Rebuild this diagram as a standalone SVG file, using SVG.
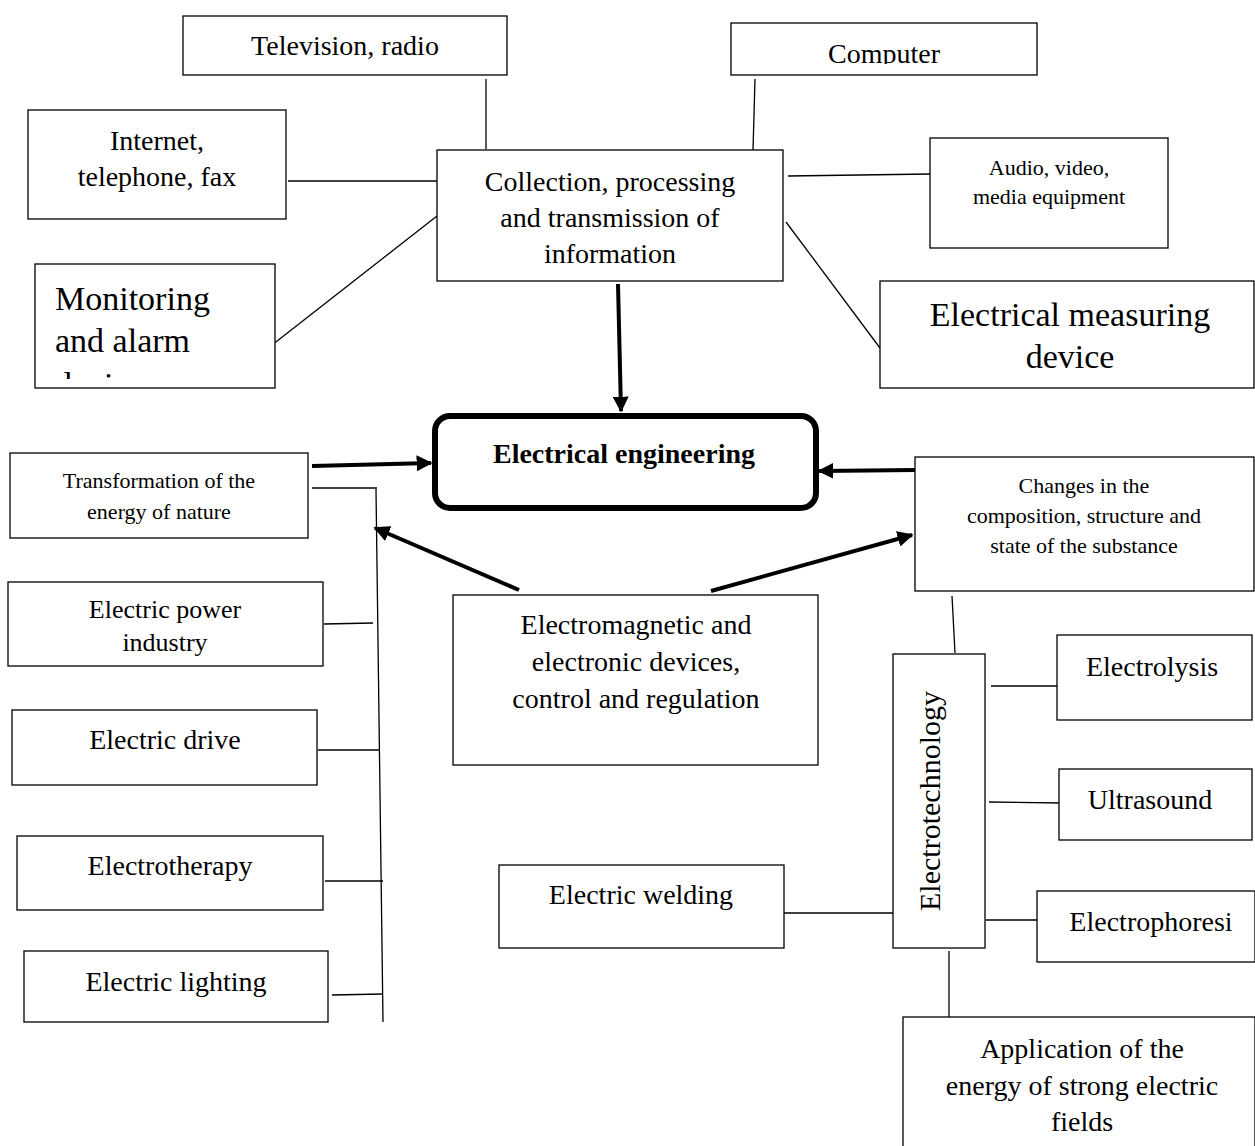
<svg xmlns="http://www.w3.org/2000/svg" width="1255" height="1146" viewBox="0 0 1255 1146">
<style>
.b{fill:#fff;stroke:#000;stroke-width:1.3}
.t{font-family:"Liberation Serif","Times New Roman",serif;fill:#000;text-anchor:middle}
.l{font-family:"Liberation Serif","Times New Roman",serif;fill:#000;text-anchor:start}
.c{stroke:#000;stroke-width:1.3;fill:none}
.a{stroke:#000;stroke-width:4;fill:none;marker-end:url(#ah)}
</style>
<defs>
<marker id="ah" viewBox="0 0 10 10" refX="9" refY="5" markerWidth="4" markerHeight="4" orient="auto" markerUnits="strokeWidth">
<path d="M0,0L10,5L0,10z" fill="#000"/>
</marker>
<clipPath id="cpMon"><rect x="35" y="264" width="240" height="115"/></clipPath>
<clipPath id="cpComp"><rect x="731" y="23" width="306" height="41"/></clipPath>
</defs>
<rect width="1255" height="1146" fill="#fff"/>
<g id="connectors">
<line class="c" x1="486" y1="79" x2="486" y2="149"/>
<line class="c" x1="755" y1="79" x2="753" y2="150"/>
<line class="c" x1="288" y1="181" x2="437" y2="181"/>
<line class="c" x1="272" y1="345" x2="437" y2="216"/>
<line class="c" x1="788" y1="176" x2="930" y2="174"/>
<line class="c" x1="786" y1="222" x2="880" y2="348"/>
<line class="a" x1="618" y1="284" x2="621" y2="411"/>
<line class="a" x1="312" y1="466" x2="431" y2="463"/>
<line class="a" x1="916" y1="470" x2="819" y2="471"/>
<line class="a" x1="711" y1="591" x2="912" y2="535"/>
<line class="a" x1="519" y1="590" x2="375" y2="528"/>
<line class="c" x1="312" y1="488" x2="377" y2="488"/>
<line class="c" x1="376" y1="489" x2="383" y2="1022"/>
<line class="c" x1="324" y1="624" x2="373" y2="623"/>
<line class="c" x1="318" y1="750" x2="379" y2="750"/>
<line class="c" x1="325" y1="881" x2="383" y2="881"/>
<line class="c" x1="332" y1="995" x2="383" y2="994"/>
<line class="c" x1="952" y1="596" x2="955" y2="653"/>
<line class="c" x1="991" y1="686" x2="1057" y2="686"/>
<line class="c" x1="989" y1="802" x2="1062" y2="803"/>
<line class="c" x1="986" y1="920" x2="1037" y2="920"/>
<line class="c" x1="784" y1="913" x2="893" y2="913"/>
<line class="c" x1="949" y1="951" x2="949" y2="1017"/>
</g>
<g id="tv"><rect class="b" x="183" y="16" width="324" height="59"/><text class="t" x="345" y="55" font-size="28">Television, radio</text></g>
<g id="computer"><rect class="b" x="731" y="23" width="306" height="52"/><text class="t" x="884" y="63" font-size="28" clip-path="url(#cpComp)">Computer</text></g>
<g id="internet"><rect class="b" x="28" y="110" width="258" height="109"/><text class="t" x="157" y="150" font-size="28">Internet,</text><text class="t" x="157" y="186" font-size="28">telephone, fax</text></g>
<g id="collection"><rect class="b" x="437" y="150" width="346" height="131"/><text class="t" x="610" y="191" font-size="28">Collection, processing</text><text class="t" x="610" y="227" font-size="28">and transmission of</text><text class="t" x="610" y="263" font-size="28">information</text></g>
<g id="audio"><rect class="b" x="930" y="138" width="238" height="110"/><text class="t" x="1049" y="175" font-size="22">Audio, video,</text><text class="t" x="1049" y="204" font-size="22">media equipment</text></g>
<g id="monitoring"><rect class="b" x="35" y="264" width="240" height="124"/><text class="l" x="55" y="310" font-size="34">Monitoring</text><text class="l" x="55" y="352" font-size="34">and alarm</text><text class="l" x="55" y="396" font-size="34" clip-path="url(#cpMon)">devices</text></g>
<g id="measuring"><rect class="b" x="880" y="281" width="374" height="107"/><text class="t" x="1070" y="326" font-size="34">Electrical measuring</text><text class="t" x="1070" y="368" font-size="34">device</text></g>
<g id="ee"><rect x="435" y="416" width="381" height="92" rx="15" fill="#fff" stroke="#000" stroke-width="6"/><text class="t" x="624" y="463" font-size="28" font-weight="bold">Electrical engineering</text></g>
<g id="transformation"><rect class="b" x="10" y="453" width="298" height="85"/><text class="t" x="159" y="488" font-size="22">Transformation of the</text><text class="t" x="159" y="519" font-size="22">energy of nature</text></g>
<g id="power"><rect class="b" x="8" y="582" width="315" height="84"/><text class="t" x="165" y="618" font-size="26">Electric power</text><text class="t" x="165" y="651" font-size="26">industry</text></g>
<g id="drive"><rect class="b" x="12" y="710" width="305" height="75"/><text class="t" x="165" y="749" font-size="28">Electric drive</text></g>
<g id="therapy"><rect class="b" x="17" y="836" width="306" height="74"/><text class="t" x="170" y="875" font-size="28">Electrotherapy</text></g>
<g id="lighting"><rect class="b" x="24" y="951" width="304" height="71"/><text class="t" x="176" y="991" font-size="28">Electric lighting</text></g>
<g id="electromagnetic"><rect class="b" x="453" y="595" width="365" height="170"/><text class="t" x="636" y="634" font-size="28">Electromagnetic and</text><text class="t" x="636" y="671" font-size="28">electronic devices,</text><text class="t" x="636" y="708" font-size="28">control and regulation</text></g>
<g id="changes"><rect class="b" x="915" y="457" width="339" height="134"/><text class="t" x="1084" y="493" font-size="22">Changes in the</text><text class="t" x="1084" y="523" font-size="22">composition, structure and</text><text class="t" x="1084" y="553" font-size="22">state of the substance</text></g>
<g id="electrotechnology"><rect class="b" x="893" y="654" width="92" height="294"/><text class="t" x="0" y="0" font-size="30" transform="translate(940,801) rotate(-90)">Electrotechnology</text></g>
<g id="electrolysis"><rect class="b" x="1057" y="635" width="195" height="85"/><text class="t" x="1152" y="676" font-size="28">Electrolysis</text></g>
<g id="ultrasound"><rect class="b" x="1059" y="769" width="193" height="71"/><text class="t" x="1150" y="809" font-size="28">Ultrasound</text></g>
<g id="electrophoresis"><rect class="b" x="1037" y="891" width="218" height="71"/><text class="t" x="1151" y="931" font-size="28">Electrophoresi</text></g>
<g id="welding"><rect class="b" x="499" y="865" width="285" height="83"/><text class="t" x="641" y="904" font-size="28">Electric welding</text></g>
<g id="application"><rect class="b" x="903" y="1017" width="352" height="135"/><text class="t" x="1082" y="1058" font-size="28">Application of the</text><text class="t" x="1082" y="1095" font-size="28">energy of strong electric</text><text class="t" x="1082" y="1131" font-size="28">fields</text></g>
</svg>
